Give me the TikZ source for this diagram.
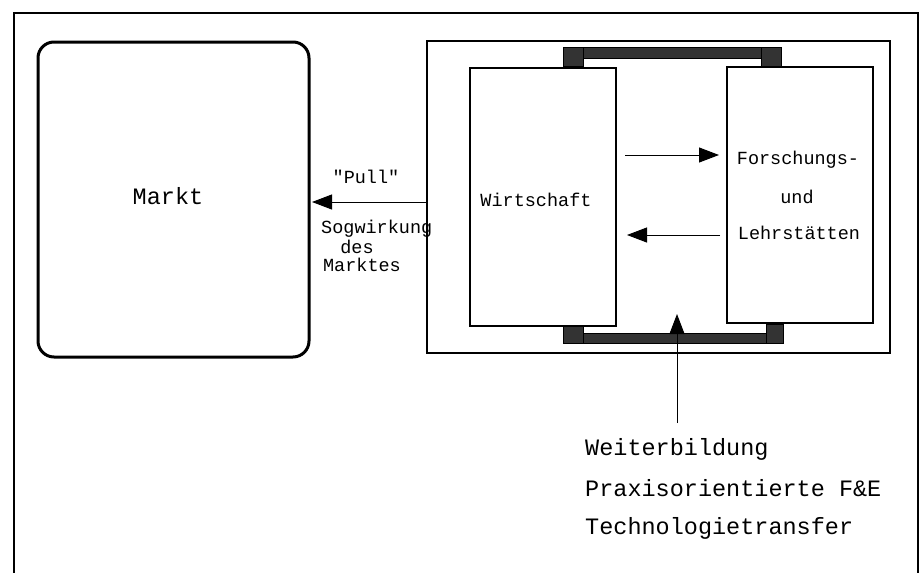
\documentclass[tikz,border=0pt]{standalone}
\usepackage{fontspec}
\setmonofont{Liberation Mono}
\usetikzlibrary{arrows.meta}
\tikzset{
  txt/.style={font=\ttfamily\fontsize{18.5}{20}\selectfont, inner sep=0pt, anchor=center},
  bigtxt/.style={font=\ttfamily\fontsize{23.5}{26}\selectfont, inner sep=0pt},
  thinbox/.style={draw, line width=1.1pt},
  bar/.style={fill=black!80, draw=black, line width=0.6pt},
  arr/.style={line width=1pt, -{Triangle[length=20pt,width=15pt]}}
}
\begin{document}
\begin{tikzpicture}[x=1pt,y=-1pt]
\useasboundingbox (0,0) rectangle (922,573);
% outer frame
\draw[line width=1.1pt] (14,580) -- (14,13) -- (918,13) -- (918,580);
% Markt
\draw[line width=3pt, rounded corners=16pt] (38,42) rectangle (309,357);
\node[bigtxt] (markt) at (168,196) {Markt};
% right container
\draw[thinbox] (427,41) rectangle (890,353);
% bars
\fill[bar] (563,47) rectangle (781,58);
\fill[bar] (563,47) rectangle (583,66);
\fill[bar] (761,47) rectangle (781,66);
\fill[bar] (563,333) rectangle (783,343);
\fill[bar] (563,324) rectangle (583,343);
\fill[bar] (766,324) rectangle (783,343);
% inner boxes
\draw[thinbox, fill=white] (470,68) rectangle (616,326);
\draw[thinbox, fill=white] (727,67) rectangle (873,323);
\node[txt] (wirt) at (536,200) {Wirtschaft};
\node[txt] (fo1) at (798,160) {Forschungs-};
\node[txt] (fo2) at (797,197) {und};
\node[txt] (fo3) at (799,233) {Lehrstätten};
% coordinates for arrows
\coordinate (w1) at (625,155);
\coordinate (f1) at (719,155);
\coordinate (f2) at (720,235);
\coordinate (w2) at (627,235);
\coordinate (pstart) at (427,202);
\coordinate (pend) at (312,202);
\coordinate (vstart) at (677,423);
\coordinate (vend) at (677,314);
\draw[arr] (w1) -- (f1);
\draw[arr] (f2) -- (w2);
\draw[arr] (pstart) -- (pend);
\draw[arr] (vstart) -- (vend);
% pull labels
\node[txt] (pull) at (366,177) {"Pull"};
\node[txt, anchor=west] (sog) at (321,229) {Sogwirkung};
\node[txt] (des) at (357,247) {des};
\node[txt] (mkt) at (362,265) {Marktes};
% bottom labels
\node[bigtxt, anchor=west] (l1) at (585,449) {Weiterbildung};
\node[bigtxt, anchor=west] (l2) at (585,488) {Praxisorientierte F\&E};
\node[bigtxt, anchor=west] (l3) at (585,528) {Technologietransfer};
\end{tikzpicture}
\end{document}
